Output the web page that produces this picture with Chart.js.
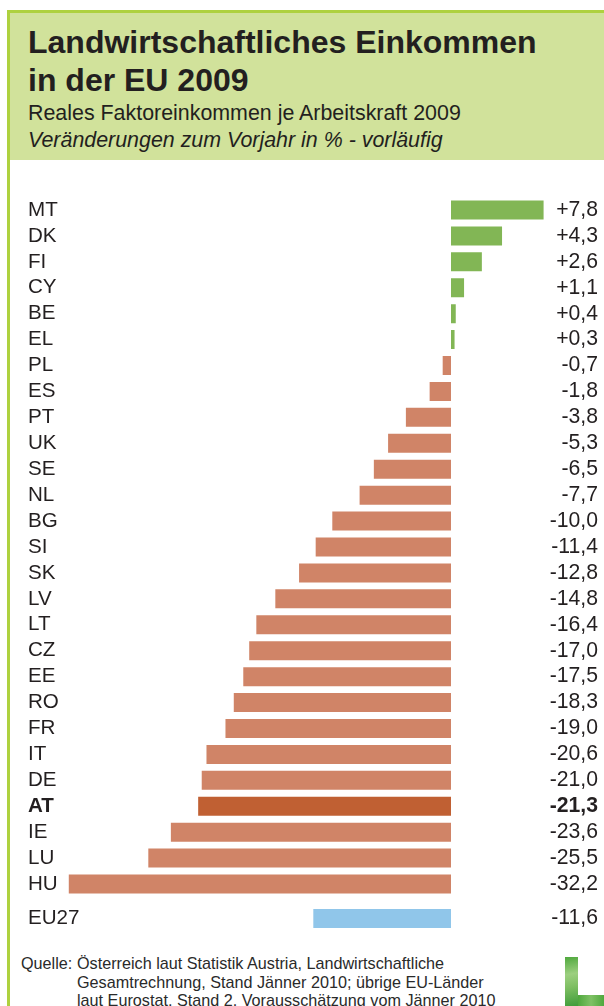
<!DOCTYPE html>
<html><head><meta charset="utf-8">
<script src="https://cdn.jsdelivr.net/npm/chart.js@4"></script>
<style>
html,body{margin:0;padding:0;background:#fff;overflow:hidden}
body{width:604px;height:1006px;position:relative;font-family:"Liberation Sans",Arial,sans-serif;color:#231f20}
#border{position:absolute;left:7px;top:10px;width:597px;height:996px;border-left:3px solid #aed13f;border-top:3px solid #aed13f;box-sizing:border-box}
#head{position:absolute;left:10px;top:13px;width:594px;height:147px;background:#d1e29b}
.t{position:absolute;left:28px;white-space:nowrap;line-height:normal}
.title{font-weight:bold;font-size:32px}
.sub{font-size:21.4px}
canvas{position:absolute;left:0}
#w1{position:absolute;left:0;top:197px;width:604px;height:700px}
#w2{position:absolute;left:0;top:905px;width:604px;height:27px}
.src{position:absolute;font-size:16.2px;white-space:nowrap;color:#2a2a2a}
#logoV{position:absolute;left:565px;top:957px;width:13px;height:49px;background:linear-gradient(170deg,#4fa83d 0,#9ccf7f 35%,#7fbf63 60%,#3f9c3a 100%)}
#logoH{position:absolute;left:578px;top:995px;width:26px;height:11px;background:linear-gradient(90deg,#4fa83d,#7fc165,#4fa83d)}
</style></head><body>
<div id="border"></div><div id="head"></div>
<div class="t title" style="top:24px">Landwirtschaftliches Einkommen</div>
<div class="t title" style="top:62px">in der EU 2009</div>
<div class="t sub" style="top:101px">Reales Faktoreinkommen je Arbeitskraft 2009</div>
<div class="t sub" style="top:128px;font-style:italic">Veränderungen zum Vorjahr in % - vorläufig</div>
<div id="w1"><canvas id="c1"></canvas></div>
<div id="w2"><canvas id="c2"></canvas></div>
<div class="src" style="left:21px;top:954px">Quelle:</div>
<div class="src" style="left:77px;top:954px">Österreich laut Statistik Austria, Landwirtschaftliche</div>
<div class="src" style="left:77px;top:973px">Gesamtrechnung, Stand Jänner 2010; übrige EU-Länder</div>
<div class="src" style="left:77px;top:991px">laut Eurostat, Stand 2. Vorausschätzung vom Jänner 2010</div>
<div id="logoV"></div><div id="logoH"></div>
<script>
const countries=["MT","DK","FI","CY","BE","EL","PL","ES","PT","UK","SE","NL","BG","SI","SK","LV","LT","CZ","EE","RO","FR","IT","DE","AT","IE","LU","HU"];
const changes=[7.8,4.3,2.6,1.1,0.4,0.3,-0.7,-1.8,-3.8,-5.3,-6.5,-7.7,-10.0,-11.4,-12.8,-14.8,-16.4,-17.0,-17.5,-18.3,-19.0,-20.6,-21.0,-21.3,-23.6,-25.5,-32.2];
const totalLabel=["EU27"];
const totalChange=[-11.6];
const highlight="AT";
const POS="#82b655",NEG="#d08467",HI="#c06033",TOTAL="#90c6ea",TXT="#231f20";
const fmt=v=>(v>0?"+":"")+v.toFixed(1).replace(".",",");
const ZERO_PX=451,PX_PER_UNIT=11.87,LEFT_PAD=28,RIGHT_PAD=6,X_MAX=8;
function build(id,labels,values,colors,barPct,xMin){
  const leftW=ZERO_PX+xMin*PX_PER_UNIT-LEFT_PAD;
  const rightW=604-RIGHT_PAD-(ZERO_PX+X_MAX*PX_PER_UNIT);
  return new Chart(document.getElementById(id),{
    type:"bar",
    data:{labels,datasets:[{data:values,backgroundColor:colors,borderWidth:0,categoryPercentage:1,barPercentage:barPct,xAxisID:"x",yAxisID:"y"}]},
    options:{
      indexAxis:"y",responsive:true,maintainAspectRatio:false,animation:false,
      layout:{padding:{left:LEFT_PAD,right:RIGHT_PAD,top:0,bottom:0}},
      plugins:{legend:{display:false},tooltip:{enabled:false}},
      scales:{
        x:{type:"linear",min:xMin,max:X_MAX,display:false,grid:{display:false}},
        y:{type:"category",position:"left",offset:true,border:{display:false},grid:{display:false,drawTicks:false},
           afterFit(s){s.width=leftW;s.paddingTop=0;s.paddingBottom=0},
           ticks:{crossAlign:"far",padding:0,autoSkip:false,color:TXT,
             font:c=>({family:"Liberation Sans",size:20.6,weight:labels[c.index]===highlight?"bold":"normal"})}},
        y2:{type:"category",position:"right",offset:true,labels:values.map(fmt),border:{display:false},grid:{display:false,drawTicks:false},
           afterFit(s){s.width=rightW;s.paddingTop=0;s.paddingBottom=0},
           ticks:{crossAlign:"far",padding:0,autoSkip:false,color:TXT,
             font:c=>({family:"Liberation Sans",size:21.2,weight:labels[c.index]===highlight?"bold":"normal"})}}
      }
    }
  });
}
build("c1",countries,changes,countries.map((c,i)=>c===highlight?HI:(changes[i]>0?POS:NEG)),0.733,-33);
build("c2",totalLabel,totalChange,[TOTAL],0.704,-29);
</script>
</body></html>
